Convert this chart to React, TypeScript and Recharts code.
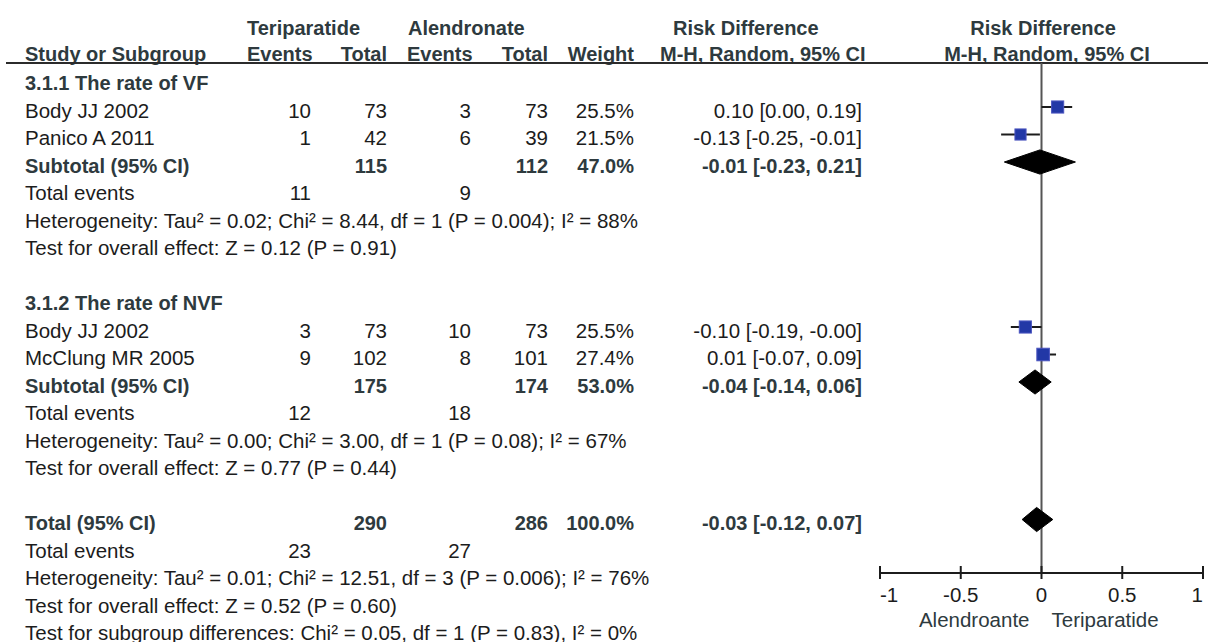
import { ScatterChart, Scatter, XAxis, YAxis, ReferenceLine, ErrorBar, Customized } from "recharts"

const FONT = "'Liberation Sans', Arial, Helvetica, sans-serif"
const INK = "#1c1c1c"
const HEAD_INK = "#2e3a3e"

// table rows, top to bottom ("" = empty cell)
const rowLabels = [
  "3.1.1 The rate of VF",
  "Body JJ 2002",
  "Panico A 2011",
  "Subtotal (95% CI)",
  "Total events",
  "Heterogeneity: Tau² = 0.02; Chi² = 8.44, df = 1 (P = 0.004); I² = 88%",
  "Test for overall effect: Z = 0.12 (P = 0.91)",
  "",
  "3.1.2 The rate of NVF",
  "Body JJ 2002",
  "McClung MR 2005",
  "Subtotal (95% CI)",
  "Total events",
  "Heterogeneity: Tau² = 0.00; Chi² = 3.00, df = 1 (P = 0.08); I² = 67%",
  "Test for overall effect: Z = 0.77 (P = 0.44)",
  "",
  "Total (95% CI)",
  "Total events",
  "Heterogeneity: Tau² = 0.01; Chi² = 12.51, df = 3 (P = 0.006); I² = 76%",
  "Test for overall effect: Z = 0.52 (P = 0.60)",
  "Test for subgroup differences: Chi² = 0.05, df = 1 (P = 0.83), I² = 0%",
]
const boldRows = [0, 3, 8, 11, 16]

const teriEvents = ["", "10", "1", "", "11", "", "", "", "", "3", "9", "", "12", "", "", "", "", "23", "", "", ""]
const teriTotal = ["", "73", "42", "115", "", "", "", "", "", "73", "102", "175", "", "", "", "", "290", "", "", "", ""]
const alenEvents = ["", "3", "6", "", "9", "", "", "", "", "10", "8", "", "18", "", "", "", "", "27", "", "", ""]
const alenTotal = ["", "73", "39", "112", "", "", "", "", "", "73", "101", "174", "", "", "", "", "286", "", "", "", ""]
const weights = ["", "25.5%", "21.5%", "47.0%", "", "", "", "", "", "25.5%", "27.4%", "53.0%", "", "", "", "", "100.0%", "", "", "", ""]
const rdText = [
  "", "0.10 [0.00, 0.19]", "-0.13 [-0.25, -0.01]", "-0.01 [-0.23, 0.21]", "", "", "", "", "",
  "-0.10 [-0.19, -0.00]", "0.01 [-0.07, 0.09]", "-0.04 [-0.14, 0.06]", "", "", "", "",
  "-0.03 [-0.12, 0.07]", "", "", "", "",
]

// individual studies
const studyRows = [1, 2, 9, 10]
const studyRd = [0.1, -0.13, -0.1, 0.01]
const studyLo = [0.0, -0.25, -0.19, -0.0]
const studyHi = [0.19, -0.01, -0.0, 0.09]
const studyWeight = [25.5, 21.5, 25.5, 27.4]

// pooled estimates (diamonds)
const pooledRows = [3, 11, 16]
const pooledRd = [-0.01, -0.04, -0.03]
const pooledLo = [-0.23, -0.14, -0.12]
const pooledHi = [0.21, 0.06, 0.07]

const xTicks = [-1, -0.5, 0, 0.5, 1]
const favours = ["Alendroante", "Teriparatide"]

const headerTop = ["Teriparatide", "Alendronate", "Risk Difference", "Risk Difference"]
const headerBottom = ["Study or Subgroup", "Events", "Total", "Events", "Total", "Weight", "M-H, Random, 95% CI", "M-H, Random, 95% CI"]

const studyData = studyRows.map((row, i) => ({
  x: studyRd[i],
  y: row,
  err: [studyRd[i] - studyLo[i], studyHi[i] - studyRd[i]],
  w: studyWeight[i],
}))

const diamondData = pooledRows.map((row, i) => [
  { x: pooledLo[i], y: row },
  { x: pooledRd[i], y: row - 0.44 },
  { x: pooledHi[i], y: row },
  { x: pooledRd[i], y: row + 0.44 },
])

const txt = (bold: boolean) => ({
  fontFamily: FONT,
  fontSize: bold ? 20 : 20.5,
  fontWeight: bold ? 700 : 400,
  fill: bold ? HEAD_INK : INK,
})

function TableRow(props: any) {
  const { y, payload } = props
  const i = payload.value as number
  const bold = boldRows.includes(i)
  const base = y + 10.5
  const s = txt(bold)
  return (
    <g>
      <text x={25} y={base} {...s}>{rowLabels[i]}</text>
      <text x={311} y={base} textAnchor="end" {...s}>{teriEvents[i]}</text>
      <text x={387} y={base} textAnchor="end" {...s}>{teriTotal[i]}</text>
      <text x={471} y={base} textAnchor="end" {...s}>{alenEvents[i]}</text>
      <text x={548} y={base} textAnchor="end" {...s}>{alenTotal[i]}</text>
      <text x={634} y={base} textAnchor="end" {...s}>{weights[i]}</text>
      <text x={862} y={base} textAnchor="end" {...s}>{rdText[i]}</text>
    </g>
  )
}

function AxisTick(props: any) {
  const { x, y, payload } = props
  const v = payload.value as number
  const anchor = v === -1 ? "start" : v === 1 ? "end" : "middle"
  const s = txt(false)
  return (
    <g>
      <line x1={x} x2={x} y1={y - 7} y2={y + 6} stroke={INK} strokeWidth={2} />
      <text x={x} y={y + 29} textAnchor={anchor} {...s}>{String(v)}</text>
      {v === 0 && (
        <>
          <text x={x - 12} y={y + 54} textAnchor="end" {...s} fill={HEAD_INK}>{favours[0]}</text>
          <text x={x + 10} y={y + 54} {...s} fill={HEAD_INK}>{favours[1]}</text>
        </>
      )}
    </g>
  )
}

function TableHeader() {
  const s = txt(true)
  return (
    <g>
      <text x={247} y={35} {...s}>{headerTop[0]}</text>
      <text x={408} y={35} {...s}>{headerTop[1]}</text>
      <text x={673} y={35} {...s}>{headerTop[2]}</text>
      <text x={1043} y={35} textAnchor="middle" {...s}>{headerTop[3]}</text>
      <text x={25} y={61} {...s}>{headerBottom[0]}</text>
      <text x={247} y={61} {...s}>{headerBottom[1]}</text>
      <text x={387} y={61} textAnchor="end" {...s}>{headerBottom[2]}</text>
      <text x={407} y={61} {...s}>{headerBottom[3]}</text>
      <text x={548} y={61} textAnchor="end" {...s}>{headerBottom[4]}</text>
      <text x={634} y={61} textAnchor="end" {...s}>{headerBottom[5]}</text>
      <text x={660} y={61} {...s}>{headerBottom[6]}</text>
      <text x={1047} y={61} textAnchor="middle" {...s}>{headerBottom[7]}</text>
      <line x1={6} x2={1208} y1={63} y2={63} stroke="#2b2b2b" strokeWidth={2} />
    </g>
  )
}

function StudySquare(props: any) {
  const { cx, cy, payload } = props
  const side = Math.sqrt(payload.w) * 2.4
  return <rect x={cx - side / 2} y={cy - side / 2} width={side} height={side} fill="#2238a6" stroke="#4b55c0" strokeWidth={1} />
}

function DiamondPath(props: any) {
  const pts = (props.points || []) as { x: number; y: number }[]
  if (!pts.length) return <g />
  const d = pts.map((p, i) => `${i === 0 ? "M" : "L"}${p.x},${p.y}`).join(" ") + " Z"
  return <path d={d} fill="#000" stroke="#000" strokeWidth={1} />
}

export default function App() {
  return (
    <div style={{ position: "absolute", left: 0, top: 0, width: 1208, height: 642, background: "#fff" }}>
      <ScatterChart width={1208} height={642} margin={{ top: 63, right: 5, bottom: 0, left: 8 }}>
        <XAxis
          type="number"
          dataKey="x"
          domain={[-1, 1]}
          ticks={xTicks}
          allowDataOverflow
          height={69}
          axisLine={{ stroke: INK, strokeWidth: 2 }}
          tickLine={false}
          tickSize={0}
          tickMargin={0}
          interval={0}
          tick={<AxisTick />}
        />
        <YAxis
          type="number"
          dataKey="y"
          domain={[-0.6, 17.945]}
          reversed
          allowDataOverflow
          width={872}
          ticks={rowLabels.map((_, i) => i)}
          interval={0}
          axisLine={false}
          tickLine={false}
          tickSize={0}
          tick={<TableRow />}
        />
        <Customized component={<TableHeader />} />
        <ReferenceLine x={0} stroke="#555" strokeWidth={2} />
        {diamondData.map((pts, i) => (
          <Scatter
            key={i}
            data={pts}
            line={(p: any) => <DiamondPath {...p} />}
            shape={() => <g />}
            isAnimationActive={false}
          />
        ))}
        <Scatter data={studyData} shape={<StudySquare />} isAnimationActive={false}>
          <ErrorBar dataKey="err" direction="x" width={0} stroke={INK} strokeWidth={2} />
        </Scatter>
      </ScatterChart>
    </div>
  )
}
